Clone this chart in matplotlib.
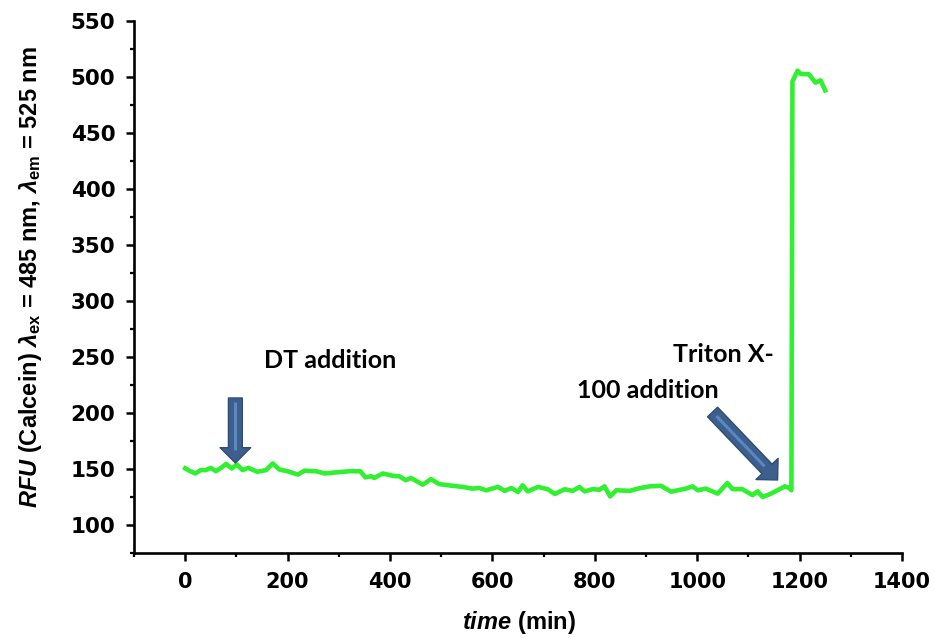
import matplotlib
matplotlib.use("Agg")
import matplotlib.pyplot as plt
from matplotlib import font_manager
from matplotlib.patches import FancyArrowPatch

# ---------------- data ----------------
time_min = [0, 10, 20, 30, 40, 50, 60, 70, 80, 91, 101, 112, 123, 141, 158, 171, 184,
            200, 220, 233, 256, 272, 295, 321, 342, 352, 363, 369, 386, 405, 418, 431,
            441, 464, 480, 496, 522, 542, 561, 574, 588, 611, 624, 637, 650, 659, 669,
            689, 708, 722, 741, 757, 770, 780, 796, 809, 819, 830, 842, 868, 884, 907,
            929, 949, 978, 991, 1001, 1017, 1040, 1059, 1069, 1088, 1108, 1118, 1128,
            1144, 1161, 1171, 1180, 1184, 1186, 1196, 1202, 1218, 1231, 1241, 1250]
rfu = [150.6, 148, 146, 149, 149, 151, 148, 151, 154.5, 150.5, 154, 149, 151, 147.5,
       149, 155, 149.5, 148, 145, 148.5, 148, 146, 147, 148, 148, 142.5, 143.5, 142,
       146, 144, 143.5, 140, 142, 136, 141, 136.5, 135, 134, 132.5, 133, 131, 134,
       130.5, 133, 129.5, 135.5, 130, 134, 132, 127.7, 131.9, 130.5, 134, 130, 132,
       131.5, 134.5, 125.5, 131, 130.5, 132.5, 134.5, 135, 129.8, 132.5, 134.5, 131,
       132.5, 128, 137.5, 132, 132, 126.7, 130, 125, 128, 132, 134.5, 133, 131,
       496, 505.6, 502.7, 502.5, 495, 497, 488]

x_ticks = [0, 200, 400, 600, 800, 1000, 1200, 1400]
y_ticks = [100, 150, 200, 250, 300, 350, 400, 450, 500, 550]

dt_label = "DT addition"
triton_label_1 = "Triton X-"
triton_label_2 = "100 addition"

# ---------------- fonts ----------------
avail = {f.name for f in font_manager.fontManager.ttflist}
narrow = "Liberation Sans Narrow" if "Liberation Sans Narrow" in avail else "Liberation Sans"
tickfont = "DejaVu Sans"
annfont = "Lato" if "Lato" in avail else "DejaVu Sans"

plt.rcParams["mathtext.fontset"] = "custom"
plt.rcParams["mathtext.rm"] = f"{narrow}:bold"
plt.rcParams["mathtext.it"] = f"{narrow}:italic:bold"
plt.rcParams["mathtext.bf"] = f"{narrow}:bold"
plt.rcParams["mathtext.sf"] = f"{narrow}:bold"

W, H = 935, 638
fig = plt.figure(figsize=(W / 100, H / 100), dpi=100)
ax = fig.add_axes([134 / W, 1 - 553 / H, 768 / W, 532 / H])

ax.plot(time_min, rfu, color="#30f030", lw=3.3, solid_joinstyle="round", zorder=3)

ax.set_xlim(-100, 1400)
ax.set_ylim(75, 550)
ax.set_xticks(x_ticks)
ax.set_xticks([-100, 100, 300, 500, 700, 900, 1100, 1300], minor=True)
ax.set_yticks(y_ticks)
ax.set_yticks(list(range(75, 551, 50)), minor=True)

for s in ["top", "right"]:
    ax.spines[s].set_visible(False)
for s in ["left", "bottom"]:
    ax.spines[s].set_linewidth(1.9)

ax.tick_params(which="major", direction="out", length=5.5, width=1.8, pad=8)
ax.tick_params(which="minor", direction="out", length=3.2, width=1.6)
for lab in ax.get_xticklabels():
    lab.set_fontfamily(tickfont)
    lab.set_fontweight("bold")
    lab.set_fontsize(15)
for lab in ax.get_yticklabels():
    lab.set_fontfamily(tickfont)
    lab.set_fontweight("bold")
    lab.set_fontsize(15.5)

ax.set_xlabel(r"$\mathit{time}$ (min)", fontfamily=narrow, fontweight="bold", fontsize=17)
ax.xaxis.label.set_verticalalignment("center")
ax.xaxis.set_label_coords(0.501, -0.13)
ax.set_ylabel(r"$\mathit{RFU}$ (Calcein) $\mathit{\lambda}_{\mathrm{ex}}$ = 485 nm, "
              r"$\mathit{\lambda}_{\mathrm{em}}$ = 525 nm",
              fontfamily=narrow, fontweight="bold", fontsize=17)
ax.yaxis.label.set_verticalalignment("center")
ax.yaxis.set_label_coords(-0.135, 0.519)

# annotations
ax.text(154, 240, dt_label, fontfamily=annfont, fontweight="bold", fontsize=18,
        ha="left", va="baseline")
ax.text(952, 245.5, triton_label_1, fontfamily=annfont, fontweight="bold", fontsize=18,
        ha="left", va="baseline")
ax.text(765, 213.4, triton_label_2, fontfamily=annfont, fontweight="bold", fontsize=18,
        ha="left", va="baseline")


def block_arrow(p0, p1):
    arr = FancyArrowPatch(p0, p1, arrowstyle="simple,head_length=11,head_width=22,tail_width=10",
                          mutation_scale=1, shrinkA=0, shrinkB=0,
                          facecolor="#3d5f8d", edgecolor="#2f4c73", lw=1.0, zorder=4)
    ax.add_patch(arr)
    # lighter inner stripe
    fx = 0.06
    gx = 0.80
    xs = [p0[0] + (p1[0] - p0[0]) * fx, p0[0] + (p1[0] - p0[0]) * gx]
    ys = [p0[1] + (p1[1] - p0[1]) * fx, p0[1] + (p1[1] - p0[1]) * gx]
    ax.plot(xs, ys, color="#5a88c2", lw=2.2, solid_capstyle="butt", zorder=5)


block_arrow((98, 213.4), (98, 155.4))
block_arrow((1030, 200.9), (1157, 140.2))

fig.savefig("out.png", dpi=100)
